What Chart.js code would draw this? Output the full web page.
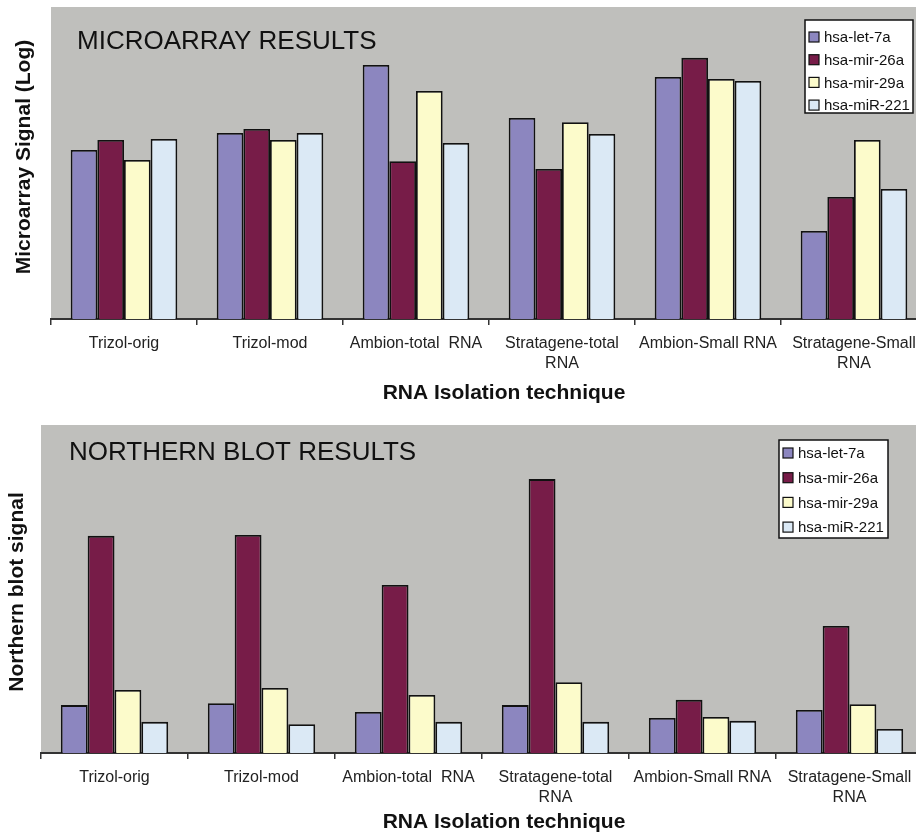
<!DOCTYPE html>
<html>
<head>
<meta charset="utf-8">
<script src="https://cdn.jsdelivr.net/npm/chart.js@4.4.1/dist/chart.umd.min.js"></script>
<style>
    html, body { margin: 0; padding: 0; background: #fff; width: 916px; height: 833px; overflow: hidden; position: relative; }
    canvas { position: absolute; left: 0; }
    #microChart { top: 0; }
    #northernChart { top: 410px; }
</style>
</head>
<body>
<canvas id="microChart" width="940" height="410"></canvas>
<canvas id="northernChart" width="940" height="423"></canvas>
<script>
const categories = ['Trizol-orig', 'Trizol-mod', 'Ambion-total  RNA', ['Stratagene-total', 'RNA'], 'Ambion-Small RNA', ['Stratagene-Small', 'RNA']];
const seriesNames = ['hsa-let-7a', 'hsa-mir-26a', 'hsa-mir-29a', 'hsa-miR-221'];

// microarray signal (log), arbitrary units 0-10
const microLet7a = [5.42, 5.96, 8.14, 6.44, 7.76, 2.82];
const microMir26a = [5.74, 6.09, 5.06, 4.81, 8.37, 3.91];
const microMir29a = [5.10, 5.74, 7.31, 6.31, 7.69, 5.74];
const microMiR221 = [5.77, 5.96, 5.64, 5.93, 7.63, 4.17];

// northern blot signal, arbitrary units 0-100
const northLet7a = [14.6, 15.2, 12.5, 14.6, 10.7, 13.1];
const northMir26a = [66.2, 66.5, 51.2, 83.5, 16.2, 38.7];
const northMir29a = [19.2, 19.8, 17.7, 21.6, 11.0, 14.9];
const northMiR221 = [9.5, 8.8, 9.5, 9.5, 9.8, 7.3];

const xTitle = 'RNA Isolation technique';

const colors = ['#8c86bf', '#771c48', '#fcfbcb', '#dbe9f5'];
const plotGray = '#bfbfbc';
const fontFamily = 'Arial, "Liberation Sans", Helvetica, sans-serif';

const plotBackground = {
    id: 'plotBackground',
    beforeDraw(chart) {
        const { ctx, chartArea } = chart;
        ctx.save();
        ctx.fillStyle = plotGray;
        ctx.fillRect(chartArea.left, chartArea.top, chartArea.right - chartArea.left, chartArea.bottom - chartArea.top);
        ctx.restore();
    }
};

// panel title, axis titles and the boxed legend inside the plot
const panelExtras = {
    id: 'panelExtras',
    afterDraw(chart, args, opts) {
        const ctx = chart.ctx;
        ctx.save();

        ctx.fillStyle = '#111';
        ctx.font = '26px ' + fontFamily;
        ctx.textBaseline = 'middle';
        ctx.textAlign = 'left';
        ctx.fillText(opts.title, opts.titleX, opts.titleY);

        ctx.font = 'bold 21px ' + fontFamily;
        ctx.textAlign = 'center';
        ctx.fillText(xTitle, opts.xTitleX, opts.xTitleY);

        ctx.save();
        ctx.translate(opts.yTitleX, opts.yTitleY);
        ctx.rotate(-Math.PI / 2);
        ctx.fillText(opts.yTitle, 0, 0);
        ctx.restore();

        const lg = opts.legend;
        ctx.fillStyle = '#fff';
        ctx.fillRect(lg.x, lg.y, lg.w, lg.h);
        ctx.strokeStyle = '#111';
        ctx.lineWidth = 1.5;
        ctx.strokeRect(lg.x, lg.y, lg.w, lg.h);

        ctx.font = '15px ' + fontFamily;
        ctx.textAlign = 'left';
        chart.data.datasets.forEach((ds, i) => {
            const cy = lg.firstRow + i * lg.rowGap;
            ctx.fillStyle = ds.backgroundColor;
            ctx.fillRect(lg.x + 4, cy - 5, 10, 10);
            ctx.lineWidth = 1.2;
            ctx.strokeRect(lg.x + 4, cy - 5, 10, 10);
            ctx.fillStyle = '#111';
            ctx.fillText(ds.label, lg.x + 19, cy + 1);
        });

        ctx.restore();
    }
};

function makeDatasets(seriesValues) {
    return seriesValues.map((values, i) => ({
        label: seriesNames[i],
        data: values,
        backgroundColor: colors[i],
        borderColor: '#111',
        borderWidth: 1.8,
        categoryPercentage: 0.73,
        barPercentage: 1
    }));
}

function makeChart(canvasId, seriesValues, yMax, layoutPadding, axisHeight, extras) {
    const ctx = document.getElementById(canvasId).getContext('2d');
    return new Chart(ctx, {
        type: 'bar',
        data: {
            labels: categories,
            datasets: makeDatasets(seriesValues)
        },
        plugins: [plotBackground, panelExtras],
        options: {
            responsive: false,
            animation: false,
            layout: { padding: layoutPadding },
            plugins: {
                legend: { display: false },
                tooltip: { enabled: false },
                panelExtras: extras
            },
            scales: {
                x: {
                    offset: true,
                    grid: { display: true, offset: true, drawOnChartArea: false, drawTicks: true, tickLength: 6, color: '#333', lineWidth: 1.5 },
                    border: { display: true, color: '#333', width: 2 },
                    ticks: {
                        color: '#222',
                        font: { family: fontFamily, size: 16, lineHeight: 1.25 },
                        padding: 9,
                        maxRotation: 0,
                        minRotation: 0,
                        autoSkip: false
                    },
                    afterFit(scale) {
                        scale.height = axisHeight;
                    }
                },
                y: {
                    display: false,
                    min: 0,
                    max: yMax
                }
            }
        }
    });
}

makeChart('microChart',
    [microLet7a, microMir26a, microMir29a, microMiR221],
    10,
    { left: 51, top: 7, right: 13, bottom: 0 },
    91,
    {
        title: 'MICROARRAY RESULTS', titleX: 77, titleY: 42,
        xTitleX: 504, xTitleY: 393,
        yTitle: 'Microarray Signal (Log)', yTitleX: 24, yTitleY: 157,
        legend: { x: 805, y: 20, w: 108, h: 93, firstRow: 37, rowGap: 22.7 }
    });

makeChart('northernChart',
    [northLet7a, northMir26a, northMir29a, northMiR221],
    100,
    { left: 41, top: 15, right: 17, bottom: 0 },
    80,
    {
        title: 'NORTHERN BLOT RESULTS', titleX: 69, titleY: 43,
        xTitleX: 504, xTitleY: 412,
        yTitle: 'Northern blot signal', yTitleX: 17, yTitleY: 182,
        legend: { x: 779, y: 30, w: 109, h: 98, firstRow: 43, rowGap: 24.7 }
    });
</script>
</body>
</html>
